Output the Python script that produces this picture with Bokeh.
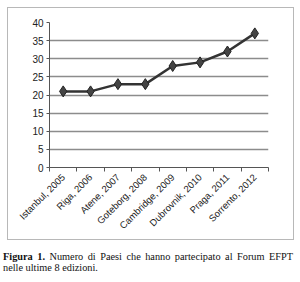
from bokeh.plotting import figure
from bokeh.models import FixedTicker, Div, Range1d
from bokeh.layouts import column
from bokeh.embed import file_html
from bokeh.resources import INLINE

categories = ["Istanbul, 2005", "Riga, 2006", "Atene, 2007", "Goteborg, 2008",
              "Cambridge, 2009", "Dubrovnik, 2010", "Praga, 2011", "Sorrento, 2012"]
values = [21, 21, 23, 23, 28, 29, 32, 37]
yticks = [0, 5, 10, 15, 20, 25, 30, 35, 40]

xs = [i + 0.5 for i in range(len(categories))]

p = figure(width=287, height=233, output_backend="svg", toolbar_location=None,
           x_range=Range1d(0, len(categories)), y_range=Range1d(0, 40),
           min_border_left=41, min_border_right=27, min_border_top=14, min_border_bottom=74,
           margin=(7, 0, 0, 7), styles={"border": "1px solid #b8b8b8", "box-sizing": "border-box"})
p.outline_line_color = None
p.background_fill_color = "white"
p.border_fill_color = "white"

p.xgrid.visible = False
p.ygrid.ticker = FixedTicker(ticks=yticks)
p.ygrid.grid_line_color = "#8c8c8c"
p.ygrid.grid_line_width = 1.5

p.yaxis.ticker = FixedTicker(ticks=yticks)
p.yaxis.axis_line_color = "#555555"
p.yaxis.major_tick_line_color = "#555555"
p.yaxis.major_tick_in = 0
p.yaxis.major_tick_out = 3
p.yaxis.minor_tick_line_color = None
p.yaxis.major_label_text_font = "Liberation Sans"
p.yaxis.major_label_text_font_size = "10px"
p.yaxis.major_label_text_color = "#222222"
p.yaxis.major_label_standoff = 3

p.xaxis.ticker = FixedTicker(ticks=xs, minor_ticks=list(range(len(categories) + 1)))
p.xaxis.major_label_overrides = {x: c for x, c in zip(xs, categories)}
p.xaxis.major_label_orientation = 0.785398
p.xaxis.major_tick_in = 0
p.xaxis.major_tick_out = 0
p.xaxis.minor_tick_in = 0
p.xaxis.minor_tick_out = 4
p.xaxis.minor_tick_line_color = "#555555"
p.xaxis.axis_line_color = "#555555"
p.xaxis.major_label_text_font = "Liberation Sans"
p.xaxis.major_label_text_font_size = "9.5px"
p.xaxis.major_label_text_color = "#222222"
p.xaxis.major_label_standoff = 4

p.line(xs, values, line_color="#333333", line_width=2.5)
p.scatter(xs, values, marker="diamond", size=11, fill_color="#444444", line_color="#222222", line_width=1)

cap = Div(text=('<div style="display:block;width:290px;text-align:justify;text-align-last:justify">'
                '<b>Figura 1.</b> <span>Numero di Paesi che hanno partecipato al Forum EFPT</span></div>'
                '<div style="display:block;width:290px">nelle ultime 8 edizioni.</div>'),
          width=291, margin=(11, 0, 0, 3),
          styles={"font-family": "Liberation Serif", "font-size": "10.3px", "line-height": "11px",
                  "color": "#111"})

layout = column(p, cap, spacing=0)
open("out.html", "w").write(file_html(layout, INLINE))
